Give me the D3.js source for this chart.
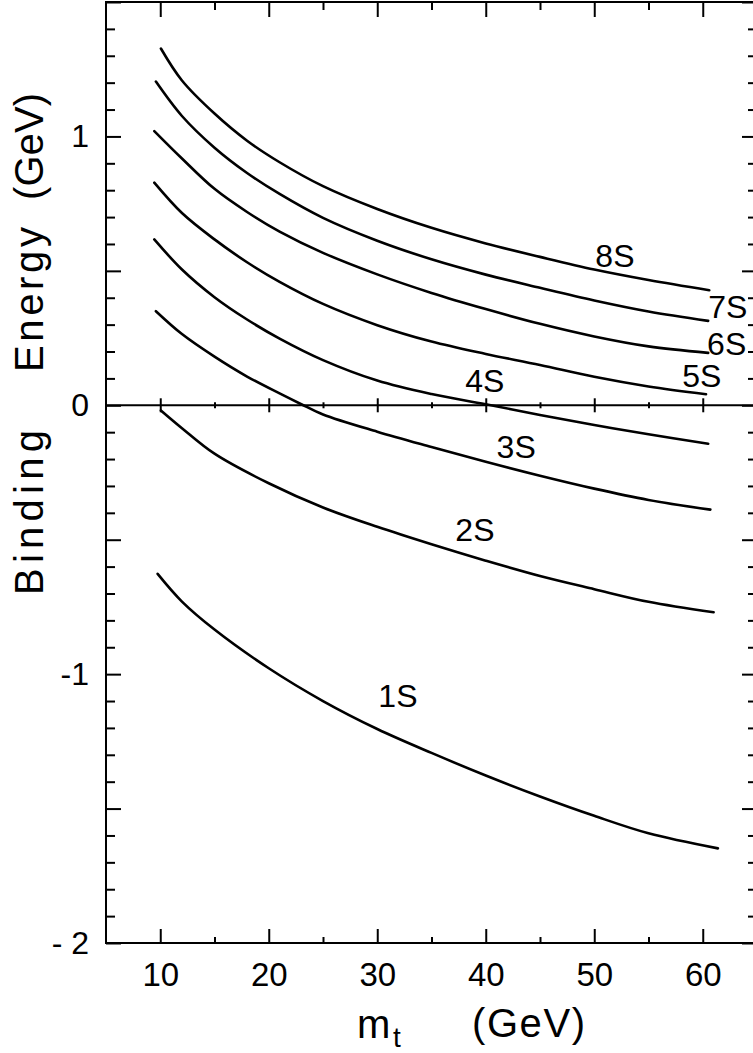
<!DOCTYPE html>
<html>
<head>
<meta charset="utf-8">
<script src="https://cdn.jsdelivr.net/npm/d3@7"></script>
<style>
  html, body { margin: 0; padding: 0; background: #fff; }
  svg { display: block; }
  text { font-family: "Liberation Sans", Arial, Helvetica, sans-serif; fill: #000; }
</style>
</head>
<body>
<div id="chart"></div>
<script>

// binding energy (GeV) vs top mass m_t (GeV)
const states = ["1S", "2S", "3S", "4S", "5S", "6S", "7S", "8S"];

const s1 = [[9.76,-0.627],[12,-0.730],[15,-0.834],[20,-0.978],[25,-1.100],[30,-1.204],[35,-1.293],[40,-1.377],[45,-1.455],[50,-1.527],[55,-1.592],[61.4,-1.648]];
const s2 = [[10.06,-0.019],[12,-0.085],[15,-0.180],[20,-0.290],[25,-0.380],[30,-0.452],[35,-0.517],[40,-0.578],[45,-0.635],[50,-0.684],[55,-0.731],[61,-0.770]];
const s3 = [[9.6,0.350],[12,0.265],[15,0.181],[18,0.107],[21,0.044],[23,0.004],[25,-0.034],[30,-0.098],[35,-0.155],[40,-0.210],[45,-0.262],[50,-0.310],[55,-0.352],[60.7,-0.388]];
const s4 = [[9.45,0.617],[12,0.505],[15,0.402],[18,0.319],[21,0.248],[25,0.168],[30,0.092],[35,0.042],[40,0.004],[45,-0.036],[50,-0.073],[55,-0.108],[60.5,-0.143]];
const s5 = [[9.45,0.828],[12,0.715],[15,0.617],[18,0.532],[21,0.459],[25,0.377],[30,0.298],[35,0.237],[40,0.191],[45,0.150],[50,0.106],[55,0.070],[60.3,0.041]];
const s6 = [[9.45,1.020],[12,0.918],[15,0.805],[18,0.719],[21,0.646],[25,0.567],[30,0.487],[35,0.418],[40,0.358],[45,0.303],[50,0.256],[55,0.219],[60.5,0.195]];
const s7 = [[9.6,1.204],[12,1.076],[15,0.958],[18,0.864],[21,0.786],[25,0.697],[30,0.612],[35,0.543],[40,0.486],[45,0.437],[50,0.390],[55,0.349],[60.5,0.314]];
const s8 = [[10.06,1.327],[12,1.208],[15,1.085],[18,0.984],[21,0.904],[25,0.815],[30,0.730],[35,0.660],[40,0.602],[45,0.552],[50,0.505],[55,0.466],[60.6,0.428]];
const series = [s1, s2, s3, s4, s5, s6, s7, s8];

// where each state name sits (m_t, energy at baseline)
const labelAt = [[30.1,-1.121],[37.2,-0.503],[41.0,-0.195],[38.1,0.048],[58.1,0.067],[60.4,0.188],[60.5,0.323],[50.1,0.514]];

const xTickValues = [10, 20, 30, 40, 50, 60];
const yTickValues = [-2, -1, 0, 1];
const yTickLabels = ["- 2", "-1", "0", "1"];

const width = 753, height = 1053;

const svg = d3.select("#chart").append("svg")
    .attr("width", width)
    .attr("height", height);

const x = d3.scaleLinear().domain([5, 65]).range([106, 757]);
const y = d3.scaleLinear().domain([-2, 1.5]).range([943, 2]);

const xMinor = d3.range(15, 65, 10);
const xMajor = d3.range(10, 65, 10);
const yMinor = d3.range(-20, 15, 1).filter(v => v % 5 !== 0).map(v => v / 10);
const yHalf = [-1.5, -0.5, 0.5, 1.5];

function clean(g) {
  g.select(".domain").remove();
  g.selectAll("line").attr("stroke", "#000").attr("stroke-width", 2);
}

// frame
svg.append("rect")
    .attr("x", x(5)).attr("y", y(1.5))
    .attr("width", x(65) - x(5)).attr("height", y(-2) - y(1.5))
    .attr("fill", "none").attr("stroke", "#000").attr("stroke-width", 2);

// bottom
svg.append("g").attr("transform", `translate(0,${y(-2)})`)
    .call(d3.axisBottom(x).tickValues(xMinor).tickSize(-6).tickFormat(""))
    .call(clean);
svg.append("g").attr("transform", `translate(0,${y(-2)})`)
    .call(d3.axisBottom(x).tickValues(xTickValues).tickSize(-14).tickPadding(20))
    .call(clean)
    .call(g => g.selectAll("text").attr("font-size", 33).attr("fill", "#000"));

// top
svg.append("g").attr("transform", `translate(0,${y(1.5)})`)
    .call(d3.axisTop(x).tickValues(xMinor).tickSize(-8).tickFormat(""))
    .call(clean);
svg.append("g").attr("transform", `translate(0,${y(1.5)})`)
    .call(d3.axisTop(x).tickValues(xMajor).tickSize(-15).tickFormat(""))
    .call(clean);

// left
svg.append("g").attr("transform", `translate(${x(5)},0)`)
    .call(d3.axisLeft(y).tickValues(yMinor).tickSize(-9).tickFormat(""))
    .call(clean);
svg.append("g").attr("transform", `translate(${x(5)},0)`)
    .call(d3.axisLeft(y).tickValues(yHalf).tickSize(-15).tickFormat(""))
    .call(clean);
svg.append("g").attr("transform", `translate(${x(5)},0)`)
    .call(d3.axisLeft(y).tickValues(yTickValues).tickSize(-15).tickPadding(17)
      .tickFormat((d, i) => yTickLabels[i]))
    .call(clean)
    .call(g => g.selectAll("text").attr("font-size", 32).attr("fill", "#000"));

// right
svg.append("g").attr("transform", `translate(${x(65)},0)`)
    .call(d3.axisRight(y).tickValues(yMinor).tickSize(-9).tickFormat(""))
    .call(clean);
svg.append("g").attr("transform", `translate(${x(65)},0)`)
    .call(d3.axisRight(y).tickValues(yHalf.concat(yTickValues)).tickSize(-15).tickFormat(""))
    .call(clean);

// zero line with crossing ticks
svg.append("line")
    .attr("x1", x(5)).attr("x2", x(65))
    .attr("y1", y(0)).attr("y2", y(0))
    .attr("stroke", "#000").attr("stroke-width", 2);
[d3.axisBottom, d3.axisTop].forEach(ax => {
  svg.append("g").attr("transform", `translate(0,${y(0)})`)
      .call(ax(x).tickValues(xMajor).tickSize(7).tickFormat(""))
      .call(clean);
  svg.append("g").attr("transform", `translate(0,${y(0)})`)
      .call(ax(x).tickValues(xMinor).tickSize(3).tickFormat(""))
      .call(clean);
});

// curves
const line = d3.line()
    .x(d => x(d[0]))
    .y(d => y(d[1]))
    .curve(d3.curveCatmullRom.alpha(0.5));

svg.append("g")
  .selectAll("path")
  .data(series)
  .join("path")
    .attr("d", line)
    .attr("fill", "none")
    .attr("stroke", "#000")
    .attr("stroke-width", 2.6)
    .attr("stroke-linecap", "round");

svg.append("g")
  .selectAll("text")
  .data(states)
  .join("text")
    .attr("x", (d, i) => x(labelAt[i][0]))
    .attr("y", (d, i) => y(labelAt[i][1]))
    .attr("font-size", 32)
    .text(d => d);

// axis titles
svg.append("text")
    .attr("x", 357).attr("y", 1038)
    .attr("font-size", 40)
    .text("m");
svg.append("text")
    .attr("x", 393).attr("y", 1047)
    .attr("font-size", 28)
    .text("t");
svg.append("text")
    .attr("x", 472).attr("y", 1037)
    .attr("font-size", 40)
    .attr("textLength", 113)
    .text("(GeV)");

const yTitle = [["Binding", 595, 165], ["Energy", 372, 145], ["(GeV)", 200, 107]];
svg.append("g")
  .selectAll("text")
  .data(yTitle)
  .join("text")
    .attr("transform", d => `translate(43,${d[1]}) rotate(-90)`)
    .attr("font-size", 40)
    .attr("textLength", d => d[2])
    .text(d => d[0]);

</script>
</body>
</html>
